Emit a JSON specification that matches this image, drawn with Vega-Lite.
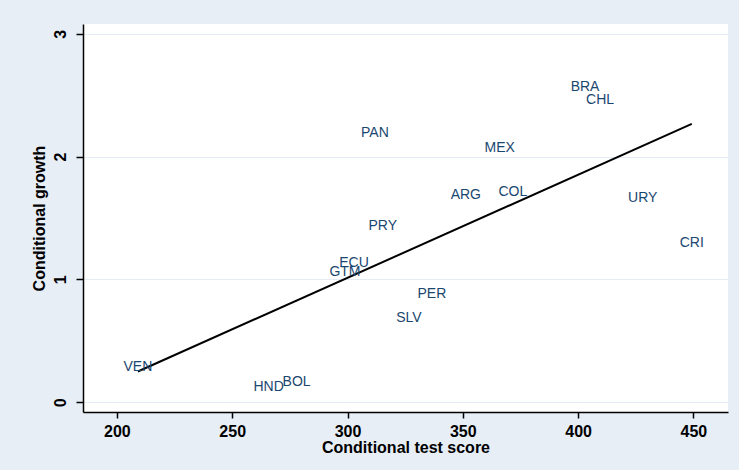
{
  "$schema": "https://vega.github.io/schema/vega-lite/v6.json",
  "autosize": {"type": "none"},
  "width": 645,
  "height": 388,
  "padding": {"left": 83, "top": 24, "right": 11, "bottom": 58},
  "background": "#e7eef6",
  "config": {
    "view": {"fill": "white", "stroke": null},
    "font": "Liberation Sans"
  },
  "layer": [
    {
      "data": {"values": [
        {"score": 209.1, "fit": 0.25},
        {"score": 449.3, "fit": 2.266}
      ]},
      "mark": {"type": "line", "color": "black", "strokeWidth": 2},
      "encoding": {
        "x": {
          "field": "score", "type": "quantitative",
          "scale": {"domain": [185.3, 465], "nice": false, "zero": false},
          "axis": {
            "title": "Conditional test score",
            "values": [200, 250, 300, 350, 400, 450],
            "format": "d",
            "grid": false,
            "domainColor": "black", "domainWidth": 1.5,
            "tickColor": "black", "tickWidth": 1.5, "tickSize": 6,
            "labelFontSize": 16, "labelFontWeight": "bold", "labelColor": "black",
            "labelPadding": 5,
            "titleFontSize": 16, "titleFontWeight": "bold", "titleColor": "black",
            "titlePadding": 0
          }
        },
        "y": {
          "field": "fit", "type": "quantitative",
          "scale": {"domain": [-0.08, 3.08], "nice": false, "zero": false},
          "axis": {
            "title": "Conditional growth",
            "values": [0, 1, 2, 3],
            "format": "d",
            "grid": true, "gridColor": "#e4ecf5", "gridWidth": 1.2,
            "domainColor": "black", "domainWidth": 1.5,
            "tickColor": "black", "tickWidth": 1.5, "tickSize": 7,
            "labelAngle": 270,
            "labelFontSize": 16, "labelFontWeight": "bold", "labelColor": "black",
            "labelPadding": 8,
            "titleFontSize": 16, "titleFontWeight": "bold", "titleColor": "black",
            "titlePadding": 5
          }
        }
      }
    },
    {
      "data": {"values": [
        {"country": "BRA", "score": 403.0, "growth": 2.567},
        {"country": "CHL", "score": 409.5, "growth": 2.46},
        {"country": "PAN", "score": 311.9, "growth": 2.19},
        {"country": "MEX", "score": 366.0, "growth": 2.07},
        {"country": "ARG", "score": 351.3, "growth": 1.687},
        {"country": "COL", "score": 371.7, "growth": 1.71},
        {"country": "URY", "score": 428.0, "growth": 1.66},
        {"country": "PRY", "score": 315.3, "growth": 1.435},
        {"country": "CRI", "score": 449.3, "growth": 1.296},
        {"country": "ECU", "score": 302.8, "growth": 1.133},
        {"country": "GTM", "score": 298.9, "growth": 1.06},
        {"country": "PER", "score": 336.6, "growth": 0.88},
        {"country": "SLV", "score": 326.6, "growth": 0.685},
        {"country": "HND", "score": 265.8, "growth": 0.122},
        {"country": "BOL", "score": 277.9, "growth": 0.163},
        {"country": "VEN", "score": 209.1, "growth": 0.285}
      ]},
      "mark": {"type": "text", "align": "center", "baseline": "middle", "fontSize": 14, "color": "#1a476f"},
      "encoding": {
        "x": {"field": "score", "type": "quantitative"},
        "y": {"field": "growth", "type": "quantitative"},
        "text": {"field": "country"}
      }
    }
  ]
}
